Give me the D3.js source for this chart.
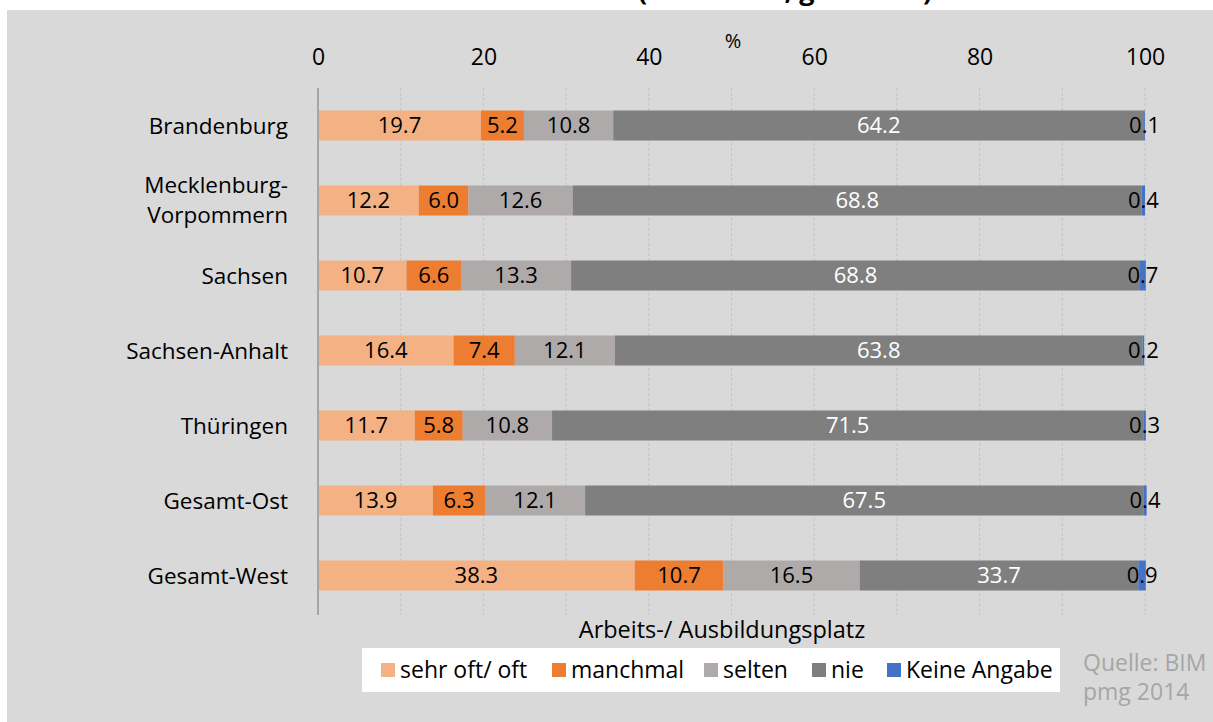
<!DOCTYPE html>
<html>
<head>
<meta charset="utf-8">
<script src="https://cdn.jsdelivr.net/npm/d3@7"></script>
<style>
  body { margin: 0; background: #fff; }
  text { font-family: "Open Sans", "Noto Sans", sans-serif; }
</style>
</head>
<body>
<div class="chart"></div>
<script>
const categories = ["Brandenburg", "Mecklenburg-Vorpommern", "Sachsen", "Sachsen-Anhalt", "Thüringen", "Gesamt-Ost", "Gesamt-West"];
const seriesNames = ["sehr oft/ oft", "manchmal", "selten", "nie", "Keine Angabe"];
const sehrOft = [19.7, 12.2, 10.7, 16.4, 11.7, 13.9, 38.3];
const manchmal = [5.2, 6.0, 6.6, 7.4, 5.8, 6.3, 10.7];
const selten = [10.8, 12.6, 13.3, 12.1, 10.8, 12.1, 16.5];
const nie = [64.2, 68.8, 68.8, 63.8, 71.5, 67.5, 33.7];
const keineAngabe = [0.1, 0.4, 0.7, 0.2, 0.3, 0.4, 0.9];
const xTicks = [0, 20, 40, 60, 80, 100];

const colors = ["#f4b183", "#ed7d31", "#aeaaaa", "#7f7f7f", "#4472c4"];
const labelColors = ["#000", "#000", "#000", "#fff", "#000"];

const w = 1213;
const h = 722;

const svg = d3.select(".chart")
    .append("svg")
    .attr("width", w)
    .attr("height", h);

// title of the slide above, only its descenders show
svg.append("text")
    .attr("x", 785)
    .attr("y", 0)
    .attr("text-anchor", "middle")
    .attr("font-size", 27)
    .attr("font-weight", "bold")
    .text("(in Prozent, gerundet)");

svg.append("rect")
    .attr("x", 7).attr("y", 10)
    .attr("width", w - 7).attr("height", h - 10)
    .attr("fill", "#d9d9d9");

const x = d3.scaleLinear().domain([0, 100]).range([318, 1145]);
const y = d3.scaleBand().domain(categories).range([88, 613])
    .paddingInner(0.6).paddingOuter(0.3);

// gridlines
svg.append("g")
    .selectAll("line")
    .data(d3.range(10, 101, 10))
    .enter()
    .append("line")
    .attr("x1", d => x(d)).attr("x2", d => x(d))
    .attr("y1", 88).attr("y2", 615)
    .attr("stroke", "#c4c4c4")
    .attr("stroke-width", 1)
    .attr("stroke-dasharray", "3,2");

// top axis
const axis = svg.append("g")
    .attr("transform", "translate(0,65)")
    .call(d3.axisTop(x).tickValues(xTicks).tickSize(0).tickPadding(0));
axis.select(".domain").remove();
axis.selectAll("text")
    .attr("font-family", "'Open Sans', sans-serif")
    .attr("font-size", 23)
    .attr("fill", "#000");

svg.append("text")
    .attr("x", 733).attr("y", 48)
    .attr("text-anchor", "middle")
    .attr("font-size", 20)
    .text("%");

// stacked data
const rows = categories.map((c, i) => {
    const vals = [sehrOft[i], manchmal[i], selten[i], nie[i], keineAngabe[i]];
    let acc = 0;
    return vals.map((v, k) => {
        const seg = { cat: c, k: k, v: v, x0: acc, x1: acc + v };
        acc += v;
        return seg;
    });
});
const segs = rows.flat();

svg.append("g")
    .selectAll("rect")
    .data(segs)
    .enter()
    .append("rect")
    .attr("x", d => x(d.x0))
    .attr("y", d => y(d.cat))
    .attr("width", d => x(d.x1) - x(d.x0))
    .attr("height", y.bandwidth())
    .attr("fill", d => colors[d.k]);

svg.append("g")
    .selectAll("text")
    .data(segs)
    .enter()
    .append("text")
    .attr("x", d => x((d.x0 + d.x1) / 2))
    .attr("y", d => y(d.cat) + y.bandwidth() / 2)
    .attr("dy", "0.36em")
    .attr("text-anchor", "middle")
    .attr("font-size", 22)
    .attr("fill", d => labelColors[d.k])
    .text(d => d.v.toFixed(1));

// vertical axis line
svg.append("line")
    .attr("x1", x(0)).attr("x2", x(0))
    .attr("y1", 88).attr("y2", 615)
    .attr("stroke", "#a6a6a6")
    .attr("stroke-width", 2);

// category labels
const catLabels = svg.append("g")
    .selectAll("text")
    .data(categories)
    .enter()
    .append("text")
    .attr("text-anchor", "end")
    .attr("font-size", 22.5)
    .attr("fill", "#000")
    .attr("x", 288)
    .attr("y", d => y(d) + y.bandwidth() / 2);
catLabels.each(function (d) {
    const t = d3.select(this);
    if (d === "Mecklenburg-Vorpommern") {
        t.append("tspan").attr("x", 288).attr("dy", "-0.35em").text("Mecklenburg-");
        t.append("tspan").attr("x", 288).attr("dy", "1.35em").text("Vorpommern");
    } else {
        t.attr("dy", "0.36em").text(d);
    }
});

svg.append("text")
    .attr("x", 722).attr("y", 638)
    .attr("text-anchor", "middle")
    .attr("font-size", 23.5)
    .text("Arbeits-/ Ausbildungsplatz");

// legend
svg.append("rect")
    .attr("x", 362).attr("y", 648)
    .attr("width", 698).attr("height", 44)
    .attr("fill", "#fff");

const legendX = [381, 552, 704, 812, 887];
const legend = svg.append("g")
    .selectAll("g")
    .data(seriesNames)
    .enter()
    .append("g")
    .attr("transform", (d, i) => "translate(" + legendX[i] + ",670)");
legend.append("rect")
    .attr("x", 0).attr("y", -7)
    .attr("width", 14).attr("height", 14)
    .attr("fill", (d, i) => colors[i]);
legend.append("text")
    .attr("x", 19).attr("dy", "0.36em")
    .attr("font-size", 23)
    .text(d => d);

svg.append("text")
    .attr("x", 1083).attr("y", 671)
    .attr("font-size", 23)
    .attr("fill", "#a6a6a6")
    .text("Quelle: BIM");
svg.append("text")
    .attr("x", 1083).attr("y", 700)
    .attr("font-size", 23)
    .attr("fill", "#a6a6a6")
    .text("pmg 2014");
</script>
</body>
</html>
